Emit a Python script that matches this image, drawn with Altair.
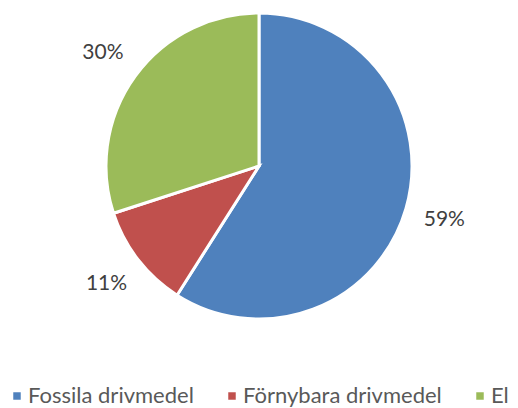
import altair as alt
import pandas as pd

categories = ["Fossila drivmedel", "Förnybara drivmedel", "El"]
values = [59, 11, 30]
labels = ["59%", "11%", "30%"]
colors = ["#4F81BD", "#C0504D", "#9BBB59"]

df = pd.DataFrame({
    "cat": categories,
    "val": values,
    "lab": labels,
    "idx": list(range(len(categories))),
})

base = alt.Chart(df).encode(
    theta=alt.Theta("val:Q", stack=True),
    order=alt.Order("idx:Q"),
    x=alt.value(251),
    y=alt.value(158),
)

pie = base.mark_arc(outerRadius=153, stroke="white", strokeWidth=3).encode(
    color=alt.Color(
        "cat:N",
        scale=alt.Scale(domain=categories, range=colors),
        sort=categories,
        legend=alt.Legend(
            title=None,
            orient="none",
            legendX=-2,
            legendY=377,
            padding=0,
            direction="horizontal",
            symbolType="square",
            symbolSize=56,
            symbolStrokeWidth=0,
            labelFont="Lato",
            labelFontSize=22,
            labelColor="#595959",
            labelOffset=0,
            columnPadding=27,
            labelLimit=400,
        ),
    )
)

text = base.mark_text(radius=193, font="Lato", fontSize=21, color="#404040").encode(
    text="lab:N"
)

chart = (pie + text).properties(
    width=502, height=400, padding=0, autosize=alt.AutoSizeParams(type="none")
).configure_view(stroke=None)

chart.save("out.html", embed_options={"renderer": "svg", "actions": False})
